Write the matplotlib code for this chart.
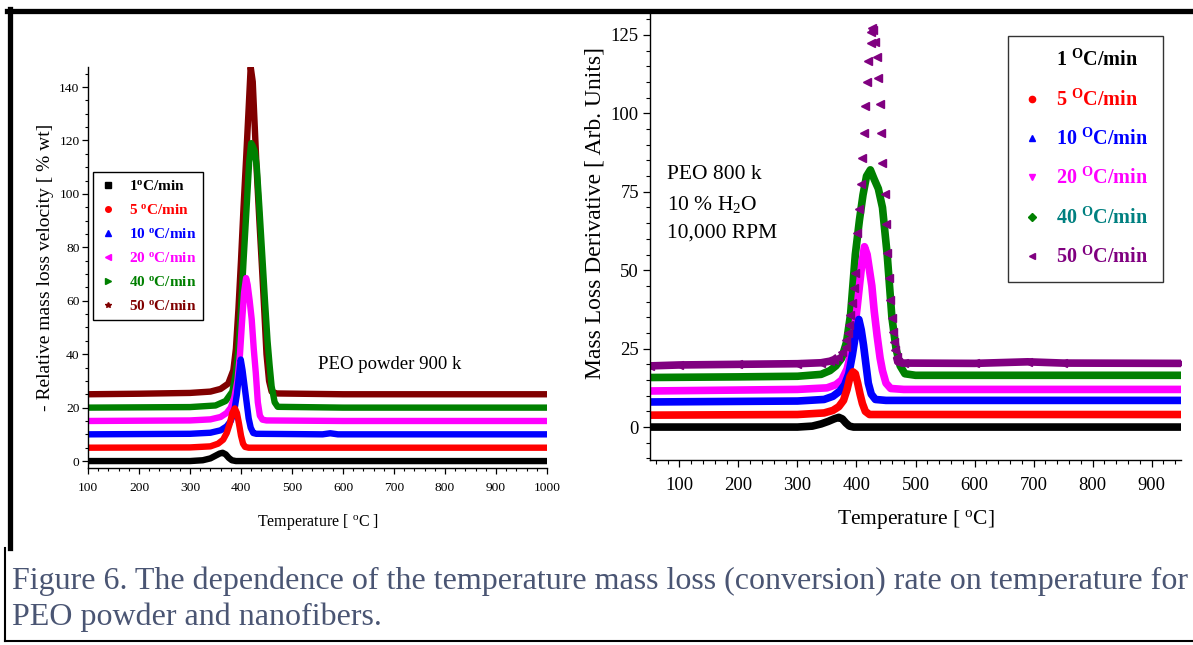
import numpy as np
import matplotlib
matplotlib.use('Agg')
import matplotlib.pyplot as plt
from matplotlib.ticker import MultipleLocator
from matplotlib.lines import Line2D

plt.rcParams['font.family'] = ['Liberation Serif', 'DejaVu Serif']
plt.rcParams['mathtext.fontset'] = 'custom'
plt.rcParams['mathtext.rm'] = 'Liberation Serif'
plt.rcParams['mathtext.bf'] = 'Liberation Serif:bold'
plt.rcParams['mathtext.it'] = 'Liberation Serif:italic'

# ---------------- Left panel data: PEO powder 900 k ----------------
L1_T = [100, 300, 325, 340, 350, 358, 364, 370, 376, 382, 390, 1000]
L1_v = [0, 0, 0.3, 1.0, 2.0, 2.8, 3.1, 2.5, 1.2, 0.3, 0, 0]

L5_T = [100, 300, 340, 355, 365, 372, 378, 383, 388, 392, 396, 400, 404, 408, 415, 1000]
L5_v = [5, 5.1, 5.5, 6.5, 8, 10.5, 14, 18, 19.7, 18, 14, 9.5, 6.5, 5.3, 5, 5]

L10_T = [100, 300, 340, 360, 372, 380, 387, 392, 396, 399.5, 403, 407, 411, 415, 419, 424, 430, 560, 575, 590, 1000]
L10_v = [10, 10.2, 10.6, 11.5, 13, 15, 19, 25, 32, 38, 34, 28, 22, 16, 12.5, 10.5, 10.2, 10, 10.4, 10, 10]

L20_T = [100, 300, 340, 360, 372, 380, 387, 393, 398, 402, 406, 410, 413, 417, 421, 425, 429, 433, 437, 442, 450, 600, 1000]
L20_v = [15, 15.2, 15.6, 16.5, 18, 20, 24, 30, 40, 52, 63, 68.5, 66, 60, 53, 42, 33, 22, 17, 15.5, 15.2, 15, 15]

L40_T = [100, 300, 350, 370, 383, 390, 395, 400, 405, 411, 416, 420, 423, 427, 431, 436, 442, 447, 452, 456, 460, 466, 472, 600, 1000]
L40_v = [20, 20.2, 20.8, 22.5, 26, 33, 42, 57, 75, 95, 112, 119, 118, 116, 110, 95, 76, 60, 45, 36, 28, 22, 20.3, 20, 20]

L50_T = [100, 200, 300, 340, 360, 375, 385, 390, 395, 400, 405, 410, 415, 419, 423, 427, 431, 436, 441, 446, 450, 455, 460, 470, 600, 800, 1000]
L50_v = [25, 25.2, 25.5, 26, 27, 29, 34, 42, 57, 75, 95, 113, 132, 147.5, 142, 125, 108, 90, 73, 55, 40, 30, 26, 25.3, 25, 25, 25]

# ---------------- Right panel data: PEO 800 k nanofibers ----------------
R1_T = [50, 300, 325, 340, 352, 362, 370, 376, 382, 388, 395, 950]
R1_v = [0, 0, 0.3, 1.0, 1.8, 2.6, 3.1, 2.6, 1.3, 0.3, 0, 0]

R5_T = [50, 300, 345, 360, 370, 378, 384, 389, 394, 398, 402, 406, 410, 415, 422, 950]
R5_v = [3.8, 4, 4.5, 5.3, 6.5, 8.5, 12, 16, 17.6, 17, 14, 10.5, 7.5, 5, 4, 4]

R10_T = [50, 300, 345, 360, 372, 380, 387, 393, 398, 404, 408, 412, 416, 420, 425, 432, 450, 950]
R10_v = [8, 8.3, 8.8, 9.8, 11.5, 13.5, 17, 23, 29, 34.3, 31, 26, 20, 14, 10.5, 8.8, 8.5, 8.5]

R20_T = [50, 300, 350, 365, 375, 384, 390, 396, 401, 405, 409, 413.5, 418, 422, 426, 430, 435, 440, 444, 450, 458, 480, 700, 950]
R20_v = [11.5, 12, 12.5, 13.5, 15, 18.5, 23, 30, 38, 45, 52, 57.5, 55, 50, 45, 37, 29, 22, 18, 14, 12.3, 12, 12, 12]

R40_T = [50, 200, 300, 340, 355, 365, 375, 383, 390, 398, 405, 411, 417, 423.5, 430, 437, 444, 452, 460, 467, 474, 482, 500, 700, 950]
R40_v = [15.8, 16.0, 16.2, 16.8, 18, 19.5, 22, 27, 36, 55, 66, 74, 80, 82, 79, 76, 70, 55, 35, 25, 19.5, 17, 16.5, 16.5, 16.5]

R50_T = [50, 100, 200, 300, 340, 355, 362, 368, 375, 381.4, 383, 385.3, 387.6, 389.8, 392.7, 395, 397.2,
         401, 404.6, 406.8, 409.6, 412.5, 414.7, 417, 419, 424, 425, 426.6,
         428.8, 432, 434, 437, 439, 441.5, 444, 448, 450.3, 452.5, 455.4, 457.6, 460.5, 462.2, 464.4, 466,
         467.8, 470, 480, 600, 690, 750, 950]
R50_v = [19.5, 19.8, 20.0, 20.2, 20.5, 21.0, 21.5, 22.3, 23.8, 25.6, 27.7, 29.9, 32.5, 35.7, 39.4, 44.2, 49.2,
         62, 69.4, 77.4, 85.7, 93.8, 102.4, 110.1, 116.8, 122.3, 126, 127.1,
         126.6, 122.8, 118.1, 111.2, 103, 93.8, 84.1, 74.3, 64.6, 55.6, 47.4, 40.5, 34.7, 30.4, 27.2, 24.6,
         22.4, 20.8, 20.4, 20.3, 20.8, 20.4, 20.3]

W, H = 1193, 645
fig = plt.figure(figsize=(W / 100, H / 100), dpi=100)

# ---------------- frame lines ----------------
fig.add_artist(Line2D([7 / W, 1.0], [1 - 10.5 / H, 1 - 10.5 / H], color='black', lw=3.8, transform=fig.transFigure))
fig.add_artist(Line2D([9.5 / W, 9.5 / W], [1 - 8.5 / H, 1 - 548 / H], color='black', lw=3.8, transform=fig.transFigure))
fig.add_artist(Line2D([5 / W, 5 / W], [1 - 548 / H, 1 - 641 / H], color='black', lw=1.5, transform=fig.transFigure))
fig.add_artist(Line2D([5 / W, 1.0], [1 - 641 / H, 1 - 641 / H], color='black', lw=1.5, transform=fig.transFigure))

# ---------------- left axes ----------------
axL = fig.add_axes([88 / W, 1 - 468 / H, 459 / W, (468 - 67) / H])
left_series = [
    (L50_T, L50_v, '#800000'),
    (L40_T, L40_v, '#008000'),
    (L20_T, L20_v, '#FF00FF'),
    (L10_T, L10_v, '#0000FF'),
    (L5_T, L5_v, '#FF0000'),
    (L1_T, L1_v, '#000000'),
]
for T, v, c in left_series:
    axL.plot(T, v, color=c, lw=4.6, solid_joinstyle='round', solid_capstyle='butt')
axL.set_xlim(100, 1000)
axL.set_ylim(-2.6, 147.5)
axL.xaxis.set_major_locator(MultipleLocator(100))
axL.xaxis.set_minor_locator(MultipleLocator(20))
axL.yaxis.set_major_locator(MultipleLocator(20))
axL.yaxis.set_minor_locator(MultipleLocator(5))
for s in ['top', 'right']:
    axL.spines[s].set_visible(False)
for s in ['left', 'bottom']:
    axL.spines[s].set_linewidth(1.0)
axL.tick_params(axis='x', which='major', direction='out', length=4, width=0.9, labelsize=9.7, pad=6)
axL.tick_params(axis='y', which='major', direction='out', length=4, width=0.9, labelsize=9.7, pad=2)
axL.tick_params(which='minor', direction='out', length=2.5, width=0.8)
axL.set_xlabel('Temperature [ $^{\\rm o}$C ]', fontsize=11.5, labelpad=13)
axL.set_ylabel('- Relative mass loss velocity [ % wt]', fontsize=14, labelpad=4)
axL.text(551, 36, 'PEO powder 900 k', fontsize=13.5, ha='left', va='center')

leg_labels_L = ['1$^{\\mathbf{o}}$C/min', '5 $^{\\mathbf{o}}$C/min', '10 $^{\\mathbf{o}}$C/min',
                '20 $^{\\mathbf{o}}$C/min', '40 $^{\\mathbf{o}}$C/min', '50 $^{\\mathbf{o}}$C/min']
leg_markers_L = ['s', 'o', '^', '<', '>', '*']
leg_colors_L = ['#000000', '#FF0000', '#0000FF', '#FF00FF', '#008000', '#800000']
handlesL = [Line2D([], [], marker=m, color=c, linestyle='none', markersize=4)
            for m, c in zip(leg_markers_L, leg_colors_L)]
legL = axL.legend(handlesL, leg_labels_L, loc='upper left', bbox_to_anchor=(93 / W, 1 - 172 / H),
                  bbox_transform=fig.transFigure, borderaxespad=0, frameon=True, fancybox=False,
                  edgecolor='black', framealpha=1, prop={'weight': 'bold', 'size': 11},
                  labelspacing=0.66, handlelength=1.1, handletextpad=0.8, borderpad=0.45)
legL.get_frame().set_linewidth(1.0)
for t, c in zip(legL.get_texts(), leg_colors_L):
    t.set_color(c)

# ---------------- right axes ----------------
axR = fig.add_axes([650 / W, 1 - 460 / H, 531 / W, (460 - 13) / H])
right_series = [
    (R40_T, R40_v, '#008000'),
    (R20_T, R20_v, '#FF00FF'),
    (R10_T, R10_v, '#0000FF'),
    (R5_T, R5_v, '#FF0000'),
    (R1_T, R1_v, '#000000'),
]
for T, v, c in right_series:
    axR.plot(T, v, color=c, lw=5.5, solid_joinstyle='round', solid_capstyle='butt')
R50_T_arr = np.array(R50_T)
R50_v_arr = np.array(R50_v)
base_v = np.where(R50_v_arr < 23, R50_v_arr, np.nan)
axR.plot(R50_T_arr, base_v, color='#800080', lw=5.5, solid_capstyle='butt')
axR.plot(R50_T_arr, R50_v_arr, color='#800080', linestyle='none', marker='<', markersize=5.5)
axR.set_xlim(50, 950)
axR.set_ylim(-10.5, 132)
axR.xaxis.set_minor_locator(MultipleLocator(20))
axR.yaxis.set_minor_locator(MultipleLocator(5))
axR.set_xticks([100, 200, 300, 400, 500, 600, 700, 800, 900])
axR.set_yticks([0, 25, 50, 75, 100, 125])
for s in ['top', 'right']:
    axR.spines[s].set_visible(False)
for s in ['left', 'bottom']:
    axR.spines[s].set_linewidth(1.0)
axR.tick_params(axis='x', which='major', direction='out', length=5, width=0.9, labelsize=13.4, pad=7)
axR.tick_params(axis='y', which='major', direction='out', length=5, width=0.9, labelsize=13.4, pad=3)
axR.tick_params(which='minor', direction='out', length=3, width=0.8)
axR.set_xlabel('Temperature [ $^{\\rm o}$C]', fontsize=15.5, labelpad=10)
axR.set_ylabel('Mass Loss Derivative [ Arb. Units]', fontsize=17)
axR.yaxis.set_label_coords(-0.083, 0.553)
axR.text(78, 80.4, 'PEO 800 k', fontsize=15.5, ha='left', va='center')
axR.text(78, 70.8, '10 % H$_2$O', fontsize=15.5, ha='left', va='center')
axR.text(78, 61.9, '10,000 RPM', fontsize=15.5, ha='left', va='center')

leg_labels_R = ['1 $^{\\mathbf{O}}$C/min', '5 $^{\\mathbf{O}}$C/min', '10 $^{\\mathbf{O}}$C/min',
                '20 $^{\\mathbf{O}}$C/min', '40 $^{\\mathbf{O}}$C/min', '50 $^{\\mathbf{O}}$C/min']
leg_markers_R = ['', 'o', '^', 'v', 'D', '<']
leg_mcolors_R = ['#000000', '#FF0000', '#0000FF', '#FF00FF', '#008000', '#800080']
leg_tcolors_R = ['#000000', '#FF0000', '#0000FF', '#FF00FF', '#008080', '#800080']
handlesR = [Line2D([], [], marker=m, color=c, linestyle='none', markersize=4.5)
            for m, c in zip(leg_markers_R, leg_mcolors_R)]
legR = axR.legend(handlesR, leg_labels_R, loc='upper left', bbox_to_anchor=(1008 / W, 1 - 36 / H),
                  bbox_transform=fig.transFigure, borderaxespad=0, frameon=True, fancybox=False,
                  edgecolor='#333333', framealpha=1, prop={'weight': 'bold', 'size': 14.5},
                  labelspacing=0.9, handlelength=1.0, handletextpad=0.7, borderpad=0.7)
legR.get_frame().set_linewidth(1.0)
for t, c in zip(legR.get_texts(), leg_tcolors_R):
    t.set_color(c)

# ---------------- caption ----------------
cap_color = '#4a5573'
fig.text(12 / W, 1 - 581 / H,
         'Figure 6. The dependence of the temperature mass loss (conversion) rate on temperature for',
         fontsize=23, color=cap_color, ha='left', va='center')
fig.text(12 / W, 1 - 617 / H, 'PEO powder and nanofibers.',
         fontsize=23, color=cap_color, ha='left', va='center')

fig.savefig('out.png', dpi=100)
